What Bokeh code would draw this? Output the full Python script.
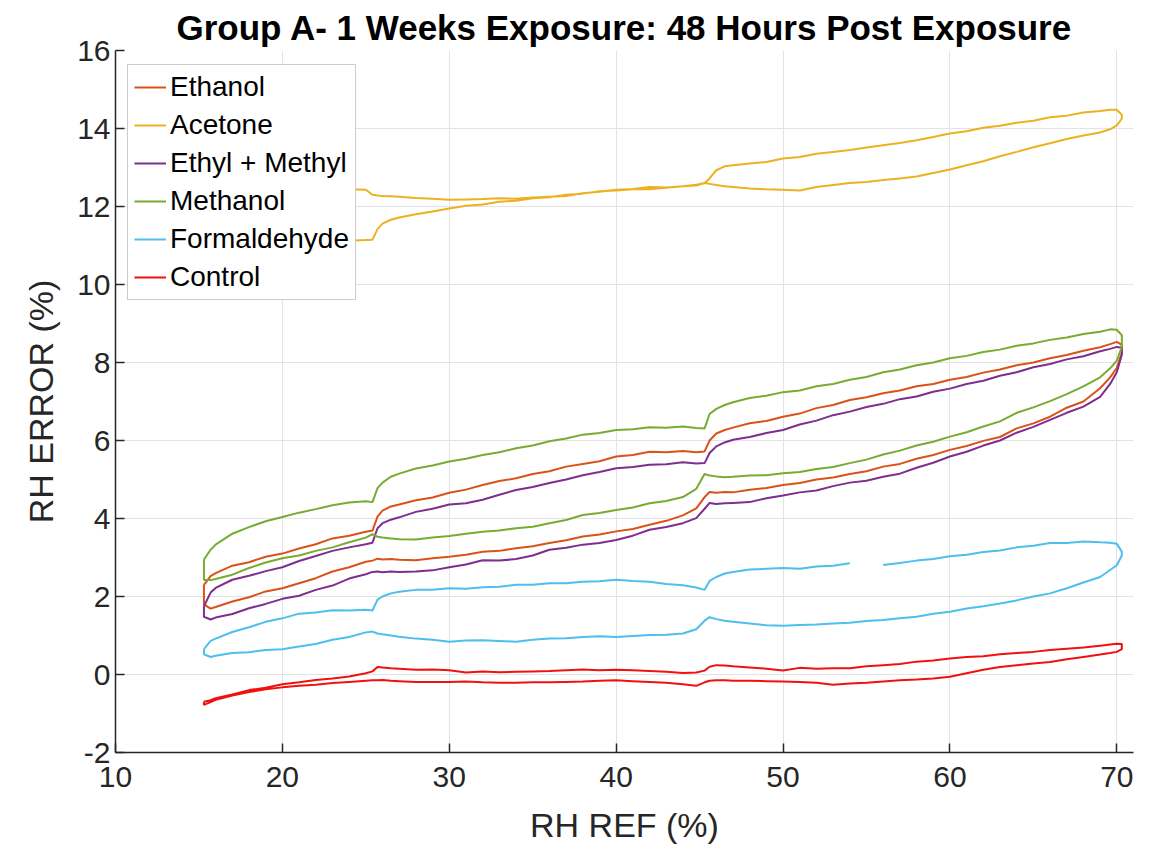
from bokeh.plotting import figure
from bokeh.models import Range1d
from bokeh.embed import file_html
from bokeh.resources import INLINE

# RH REF sample positions (%), shared by every branch
rh = [15.3, 15.7, 16.0, 17.0, 18.0, 19.0, 20.0, 21.0, 22.0, 23.0, 24.0, 25.0,
      25.4, 25.7, 26.0, 26.5,
      27.0, 28.0, 29.0, 30.0, 31.0, 32.0, 33.0, 34.0, 35.0, 36.0, 37.0, 38.0, 39.0, 40.0, 41.0, 42.0, 43.0, 44.0,
      44.8, 45.3, 45.6, 46.0, 46.5,
      47.0, 48.0, 49.0, 50.0, 51.0, 52.0, 53.0, 54.0, 55.0, 56.0, 57.0, 58.0, 59.0, 60.0, 61.0, 62.0, 63.0, 64.0, 65.0, 66.0, 67.0, 68.0, 69.0,
      69.6, 70.0, 70.3]

NaN = float("nan")

ethanol_hi = [2.30, 2.52, 2.60, 2.79, 2.88, 3.02, 3.10, 3.23, 3.34, 3.49, 3.56, 3.66,
              3.69, 4.05, 4.20, 4.31,
              4.36, 4.47, 4.54, 4.66, 4.74, 4.86, 4.96, 5.03, 5.14, 5.21, 5.33, 5.40, 5.47, 5.59, 5.63, 5.71, 5.70, 5.73,
              5.70, 5.72, 6.00, 6.18, 6.27,
              6.33, 6.44, 6.50, 6.61, 6.69, 6.83, 6.91, 7.04, 7.11, 7.21, 7.28, 7.39, 7.45, 7.56, 7.63, 7.74, 7.82, 7.93, 8.00, 8.11, 8.19, 8.30, 8.39,
              8.47, 8.53, 8.45]
ethanol_lo = [1.80, 1.69, 1.73, 1.87, 1.98, 2.13, 2.21, 2.34, 2.47, 2.64, 2.75, 2.89,
              2.92, 2.97, 2.95, 2.96,
              2.94, 2.93, 2.98, 3.02, 3.07, 3.15, 3.17, 3.24, 3.29, 3.37, 3.44, 3.54, 3.59, 3.67, 3.73, 3.84, 3.94, 4.08,
              4.26, 4.55, 4.68, 4.66, 4.68,
              4.67, 4.74, 4.78, 4.86, 4.91, 5.00, 5.05, 5.14, 5.21, 5.33, 5.40, 5.53, 5.63, 5.76, 5.86, 5.99, 6.09, 6.31, 6.44, 6.61, 6.84, 7.00, 7.34,
              7.62, 7.86, 8.25]

acetone_hi = [9.70, 10.90, 11.40, 11.90, 12.15, 12.28, 12.35, 12.40, 12.42, 12.43, 12.44, 12.43,
              12.30, 12.28, 12.27, 12.26,
              12.25, 12.22, 12.20, 12.17, 12.18, 12.19, 12.21, 12.20, 12.23, 12.25, 12.27, 12.34, 12.38, 12.43, 12.45, 12.50, 12.49, 12.52,
              12.54, 12.60, 12.72, 12.93, 13.03,
              13.06, 13.10, 13.14, 13.23, 13.27, 13.35, 13.40, 13.45, 13.51, 13.57, 13.63, 13.70, 13.78, 13.87, 13.93, 14.02, 14.07, 14.15, 14.20, 14.29, 14.33, 14.41, 14.45,
              14.48, 14.48, 14.35]
acetone_lo = [9.62, 10.25, 10.45, 10.65, 10.78, 10.87, 10.94, 10.99, 11.04, 11.08, 11.12, 11.14,
              11.15, 11.42, 11.56, 11.66,
              11.72, 11.80, 11.87, 11.95, 12.02, 12.05, 12.12, 12.15, 12.21, 12.24, 12.30, 12.33, 12.39, 12.41, 12.44, 12.44, 12.48, 12.52,
              12.56, 12.60, 12.58, 12.55, 12.52,
              12.50, 12.46, 12.44, 12.43, 12.41, 12.50, 12.55, 12.60, 12.63, 12.68, 12.72, 12.77, 12.86, 12.95, 13.06, 13.16, 13.29, 13.40, 13.52, 13.62, 13.73, 13.82, 13.90,
              13.98, 14.08, 14.25]

ethylmethyl_hi = [1.75, 2.10, 2.22, 2.43, 2.53, 2.65, 2.75, 2.91, 3.04, 3.17, 3.26, 3.34,
                  3.38, 3.75, 3.88, 3.97,
                  4.03, 4.17, 4.25, 4.36, 4.39, 4.48, 4.61, 4.73, 4.81, 4.91, 5.00, 5.11, 5.19, 5.29, 5.32, 5.38, 5.39, 5.44,
                  5.41, 5.42, 5.68, 5.85, 5.95,
                  6.02, 6.09, 6.19, 6.27, 6.41, 6.51, 6.65, 6.74, 6.86, 6.94, 7.06, 7.13, 7.25, 7.33, 7.45, 7.53, 7.66, 7.75, 7.88, 7.96, 8.08, 8.16, 8.29,
                  8.35, 8.40, 8.38]
ethylmethyl_lo = [1.48, 1.41, 1.46, 1.55, 1.70, 1.81, 1.94, 2.02, 2.17, 2.28, 2.46, 2.57,
                  2.63, 2.64, 2.62, 2.64,
                  2.63, 2.64, 2.67, 2.75, 2.82, 2.93, 2.92, 2.96, 3.05, 3.20, 3.25, 3.33, 3.37, 3.45, 3.56, 3.71, 3.78, 3.88,
                  4.01, 4.25, 4.40, 4.37, 4.39,
                  4.40, 4.42, 4.52, 4.59, 4.67, 4.72, 4.83, 4.92, 4.97, 5.07, 5.15, 5.30, 5.43, 5.59, 5.71, 5.87, 6.00, 6.20, 6.35, 6.53, 6.71, 6.87, 7.12,
                  7.45, 7.75, 8.20]

methanol_hi = [2.95, 3.20, 3.33, 3.61, 3.78, 3.93, 4.04, 4.15, 4.24, 4.34, 4.41, 4.44,
               4.42, 4.78, 4.92, 5.07,
               5.15, 5.28, 5.36, 5.46, 5.53, 5.63, 5.70, 5.80, 5.87, 5.98, 6.05, 6.15, 6.19, 6.27, 6.29, 6.34, 6.33, 6.36,
               6.32, 6.31, 6.68, 6.81, 6.91,
               6.98, 7.09, 7.15, 7.24, 7.28, 7.39, 7.45, 7.56, 7.63, 7.75, 7.82, 7.93, 8.00, 8.11, 8.17, 8.27, 8.33, 8.43, 8.49, 8.58, 8.64, 8.73, 8.79,
               8.85, 8.84, 8.70]
methanol_lo = [2.42, 2.42, 2.45, 2.56, 2.73, 2.87, 2.98, 3.05, 3.17, 3.26, 3.39, 3.51,
               3.60, 3.53, 3.51, 3.49,
               3.47, 3.46, 3.51, 3.55, 3.61, 3.66, 3.69, 3.75, 3.79, 3.88, 3.96, 4.09, 4.14, 4.22, 4.28, 4.39, 4.45, 4.55,
               4.76, 5.14, 5.10, 5.08, 5.06,
               5.07, 5.10, 5.11, 5.16, 5.19, 5.27, 5.32, 5.42, 5.51, 5.64, 5.74, 5.87, 5.97, 6.10, 6.21, 6.36, 6.49, 6.71, 6.85, 7.01, 7.19, 7.39, 7.62,
               7.85, 8.05, 8.40]

formaldehyde_hi = [0.65, 0.86, 0.92, 1.09, 1.21, 1.35, 1.44, 1.56, 1.59, 1.65, 1.64, 1.66,
                   1.64, 1.92, 2.00, 2.08,
                   2.12, 2.17, 2.17, 2.21, 2.20, 2.24, 2.25, 2.30, 2.30, 2.34, 2.34, 2.38, 2.39, 2.43, 2.40, 2.38, 2.32, 2.29,
                   2.23, 2.17, 2.40, 2.50, 2.59,
                   2.63, 2.69, 2.71, 2.73, 2.71, 2.77, 2.79, 2.85, NaN, 2.81, 2.86, 2.92, 2.96, 3.03, 3.07, 3.14, 3.18, 3.26, 3.30, 3.37, 3.37, 3.41, 3.39,
                   3.38, 3.35, 3.15]
formaldehyde_lo = [0.52, 0.45, 0.48, 0.55, 0.57, 0.63, 0.65, 0.72, 0.78, 0.89, 0.96, 1.08,
                   1.10, 1.05, 1.03, 1.00,
                   0.97, 0.92, 0.89, 0.84, 0.87, 0.88, 0.86, 0.84, 0.89, 0.92, 0.93, 0.96, 0.98, 0.96, 0.99, 1.01, 1.02, 1.05,
                   1.16, 1.38, 1.47, 1.42, 1.38,
                   1.35, 1.31, 1.26, 1.25, 1.27, 1.28, 1.31, 1.33, 1.37, 1.40, 1.44, 1.48, 1.56, 1.61, 1.69, 1.75, 1.82, 1.90, 2.00, 2.08, 2.21, 2.36, 2.50,
                   2.68, 2.80, 3.05]

control_hi = [-0.70, -0.66, -0.61, -0.51, -0.40, -0.34, -0.25, -0.20, -0.14, -0.10, -0.05, 0.03,
              0.08, 0.19, 0.18, 0.16,
              0.15, 0.12, 0.13, 0.11, 0.05, 0.08, 0.06, 0.07, 0.08, 0.09, 0.11, 0.13, 0.11, 0.12, 0.11, 0.09, 0.07, 0.04,
              0.05, 0.10, 0.20, 0.24, 0.23,
              0.21, 0.18, 0.15, 0.10, 0.17, 0.15, 0.16, 0.16, 0.21, 0.24, 0.27, 0.33, 0.36, 0.41, 0.45, 0.47, 0.52, 0.55, 0.58, 0.63, 0.66, 0.69, 0.74,
              0.77, 0.79, 0.78]
control_lo = [-0.78, -0.71, -0.65, -0.54, -0.45, -0.38, -0.33, -0.29, -0.26, -0.22, -0.19, -0.16,
              -0.15, -0.15, -0.14, -0.16,
              -0.17, -0.19, -0.19, -0.19, -0.18, -0.20, -0.21, -0.21, -0.20, -0.20, -0.19, -0.18, -0.16, -0.15, -0.17, -0.19, -0.21, -0.25,
              -0.29, -0.20, -0.16, -0.15, -0.15,
              -0.16, -0.16, -0.17, -0.18, -0.19, -0.21, -0.26, -0.23, -0.21, -0.18, -0.15, -0.13, -0.10, -0.06, 0.03, 0.12, 0.19, 0.24, 0.28, 0.32, 0.39, 0.45, 0.51,
              0.55, 0.58, 0.65]

series_names = ["Ethanol", "Acetone", "Ethyl + Methyl", "Methanol", "Formaldehyde", "Control"]
series_colors = ["#D95319", "#EDB120", "#7E2F8E", "#77AC30", "#4DBEEE", "#F01010"]
series_hi = [ethanol_hi, acetone_hi, ethylmethyl_hi, methanol_hi, formaldehyde_hi, control_hi]
series_lo = [ethanol_lo, acetone_lo, ethylmethyl_lo, methanol_lo, formaldehyde_lo, control_lo]

x_ticks = [10, 20, 30, 40, 50, 60, 70]
y_ticks = [-2, 0, 2, 4, 6, 8, 10, 12, 14, 16]

FONT = "Liberation Sans"
TXT = "#262626"

p = figure(width=1162, height=849, output_backend="svg", toolbar_location=None,
           x_range=Range1d(10, 71), y_range=Range1d(-2, 16),
           min_border_left=115, min_border_right=29, min_border_top=50, min_border_bottom=97,
           background_fill_color="white", border_fill_color="white")

p.title.text = "Group A- 1 Weeks Exposure: 48 Hours Post Exposure"
p.title.align = "center"
p.title.text_font = FONT
p.title.text_font_size = "35px"
p.title.text_font_style = "bold"
p.title.text_color = "black"
p.title.standoff = 8

for name, color, hi, lo in zip(series_names, series_colors, series_hi, series_lo):
    xs = rh + rh[::-1] + [rh[0]]
    ys = hi + lo[::-1] + [hi[0]]
    p.line(xs, ys, line_color=color, line_width=2, legend_label=name)

p.outline_line_color = None
for ax in (p.xaxis[0], p.yaxis[0]):
    ax.axis_line_color = TXT
    ax.axis_line_width = 1.5
    ax.major_tick_line_color = TXT
    ax.major_tick_line_width = 1.5
    ax.major_tick_in = 9
    ax.major_tick_out = 0
    ax.minor_tick_line_color = None
    ax.major_label_text_font = FONT
    ax.major_label_text_font_size = "30px"
    ax.major_label_text_color = TXT
    ax.axis_label_text_font = FONT
    ax.axis_label_text_font_size = "34px"
    ax.axis_label_text_font_style = "normal"
    ax.axis_label_text_color = TXT

p.xaxis.ticker = x_ticks
p.yaxis.ticker = y_ticks
p.xaxis.major_label_overrides = {t: str(t) for t in x_ticks}
p.yaxis.major_label_overrides = {t: str(t) for t in y_ticks}
p.xaxis.axis_label = "RH REF (%)"
p.yaxis.axis_label = "RH ERROR (%)"
p.xaxis.major_label_standoff = 14
p.yaxis.major_label_standoff = 5
p.xaxis.axis_label_standoff = 16
p.yaxis.axis_label_standoff = 14

p.xgrid.grid_line_color = "#e3e3e3"
p.ygrid.grid_line_color = "#e3e3e3"
p.xgrid.grid_line_width = 1
p.ygrid.grid_line_width = 1

lg = p.legend[0]
lg.location = (12, 452)
lg.label_text_font = FONT
lg.label_text_font_size = "28px"
lg.label_text_color = "black"
lg.glyph_width = 32
lg.glyph_height = 30
lg.label_height = 30
lg.label_standoff = 4
lg.spacing = 6
lg.padding = 6
lg.margin = 0
lg.border_line_color = "#9a9a9a"
lg.border_line_width = 1.5
lg.background_fill_color = "white"
lg.background_fill_alpha = 1.0

open("out.html", "w").write(file_html(p, INLINE))
